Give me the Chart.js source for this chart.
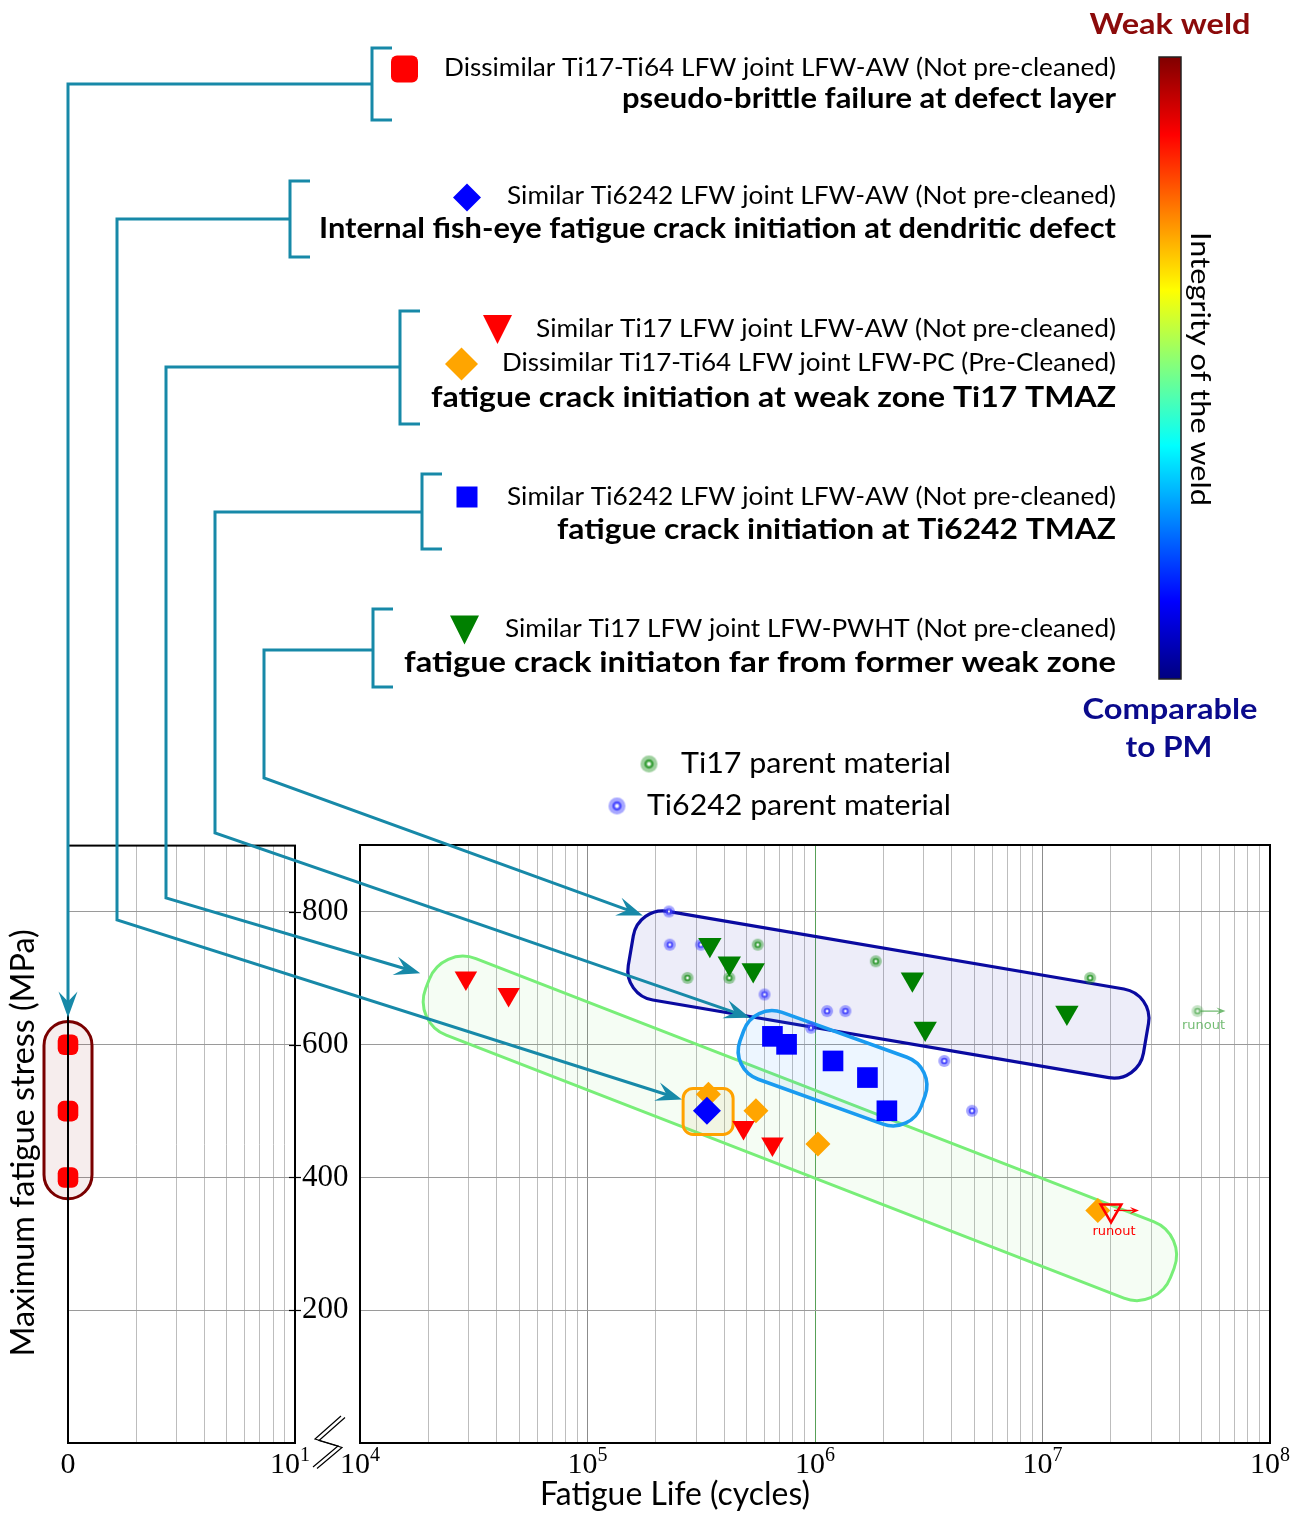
<!DOCTYPE html>
<html>
<head>
<meta charset="utf-8">
<title>Fatigue life of LFW joints</title>
<script src="https://cdn.jsdelivr.net/npm/chart.js@4.4.1/dist/chart.umd.min.js"></script>
<style>
  html, body { margin: 0; padding: 0; background: #fff; }
  #page { position: relative; width: 1305px; height: 1513px; overflow: hidden; }
  #page canvas { position: absolute; }
  #overlay { pointer-events: none; }
</style>
</head>
<body>
<div id="page">
  <canvas id="leftChart" width="360" height="693" style="left:0;top:820px"></canvas>
  <canvas id="mainChart" width="975" height="693" style="left:330px;top:820px"></canvas>
  <canvas id="overlay" width="1305" height="1513" style="left:0;top:0"></canvas>
</div>
<script>
// life = cycles to failure, stress = maximum fatigue stress (MPa)
const dissimAW_stress = [600, 500, 400];            // sits on the "0" line of the left panel
const fishEye_life = [3.35e5];
const fishEye_stress = [500];
const ti6242TMAZ_life = [6.5e5, 7.5e5, 1.2e6, 1.7e6, 2.07e6];
const ti6242TMAZ_stress = [612, 600, 575, 550, 500];
const ti17AW_life = [2.92e4, 4.5e4, 4.85e5, 6.5e5];
const ti17AW_stress = [700, 675, 475, 450];
const dissimPC_life = [3.4e5, 5.5e5, 1.03e6];
const dissimPC_stress = [525, 500, 450];
const pwht_life = [3.45e5, 4.2e5, 5.35e5, 2.68e6, 3.05e6, 1.28e7];
const pwht_stress = [750, 722, 712, 698, 624, 648];
const ti17PM_life = [2.75e5, 4.2e5, 5.6e5, 1.85e6, 1.62e7];
const ti17PM_stress = [700, 700, 750, 725, 700];
const ti6242PM_life = [2.28e5, 2.3e5, 3.15e5, 6.0e5, 9.6e5, 1.13e6, 1.36e6, 3.7e6, 4.9e6];
const ti6242PM_stress = [800, 750, 750, 675, 625, 650, 650, 575, 500];
// run-outs (test stopped without failure)
const ti17AW_runLife = [2.0e7], ti17AW_runStress = [350];
const dissimPC_runLife = [1.75e7], dissimPC_runStress = [350];
const ti17PM_runLife = [4.8e7], ti17PM_runStress = [650];
// axes
const stressTicks = [200, 400, 600, 800];
const lifeDecades = [1e4, 1e5, 1e6, 1e7, 1e8];
const leftDecades = [1, 10];

const pts = (xs, ys) => xs.map((x, i) => ({ x: x, y: ys[i] }));

// grid positions for log axes (1..9 per decade)
const mainGrid = [];
for (let e = 4; e < 8; e++) for (let m = 1; m < 10; m++) mainGrid.push(m * Math.pow(10, e));
mainGrid.push(1e8);
const leftGrid = [1, 2, 3, 4, 5, 6, 7, 8, 9, 10];

const SERIF = '"Liberation Serif", "DejaVu Serif", serif';
const SANS = 'Lato, "Open Sans", sans-serif';
const TEAL = '#1789a8';

// shaded zones around groups of points: ends in data space, thickness in px
const zones = [
  { from: [1.98e4, 691], to: [3.72e7, 256], h: 82, r: 36, lw: 3, stroke: '#78ee78', fill: 'rgba(120,230,100,0.07)' },
  { from: [1.55e5, 741], to: [2.85e7, 609], h: 90, r: 30, lw: 3.2, stroke: '#0a0aa0', fill: 'rgba(20,20,170,0.075)' },
  { from: [4.77e5, 613], to: [2.99e6, 515], h: 71, r: 30, lw: 3.6, stroke: '#1a9bf0', fill: 'rgba(60,150,255,0.09)' },
  { from: [3.39e5, 499], to: [3.39e5, 499], w: 50, h: 46, r: 10, lw: 3, stroke: '#ffa200', fill: 'rgba(200,170,60,0.09)' }
];
const pill = { from: [1, 635], to: [1, 368], h: 48, r: 24, lw: 3, stroke: '#7a0000', fill: 'rgba(128,0,0,0.07)' };

function roundRectPath(ctx, x, y, w, h, r) {
  ctx.beginPath();
  ctx.moveTo(x + r, y);
  ctx.arcTo(x + w, y, x + w, y + h, r);
  ctx.arcTo(x + w, y + h, x, y + h, r);
  ctx.arcTo(x, y + h, x, y, r);
  ctx.arcTo(x, y, x + w, y, r);
  ctx.closePath();
}

function drawZone(ctx, xs, ys, z) {
  const x1 = xs.getPixelForValue(z.from[0]), y1 = ys.getPixelForValue(z.from[1]);
  const x2 = xs.getPixelForValue(z.to[0]), y2 = ys.getPixelForValue(z.to[1]);
  const len = z.w || Math.hypot(x2 - x1, y2 - y1);
  const ang = z.w ? 0 : Math.atan2(y2 - y1, x2 - x1);
  ctx.save();
  ctx.translate((x1 + x2) / 2, (y1 + y2) / 2);
  ctx.rotate(ang);
  roundRectPath(ctx, -len / 2, -z.h / 2, len, z.h, z.r);
  ctx.fillStyle = z.fill;
  ctx.fill();
  ctx.lineWidth = z.lw;
  ctx.strokeStyle = z.stroke;
  ctx.stroke();
  ctx.restore();
}

function arrowHead(ctx, tx, ty, ang, len, half) {
  const ux = Math.cos(ang), uy = Math.sin(ang), nx = -uy, ny = ux;
  ctx.beginPath();
  ctx.moveTo(tx, ty);
  ctx.lineTo(tx - ux * len + nx * half, ty - uy * len + ny * half);
  ctx.lineTo(tx - ux * len * 0.62, ty - uy * len * 0.62);
  ctx.lineTo(tx - ux * len - nx * half, ty - uy * len - ny * half);
  ctx.closePath();
  ctx.fill();
}

function drawPow(ctx, exp, cx, base) {
  ctx.save();
  ctx.fillStyle = '#000';
  ctx.textAlign = 'left';
  ctx.textBaseline = 'alphabetic';
  ctx.font = '30px ' + SERIF;
  const w1 = ctx.measureText('10').width;
  ctx.font = '20px ' + SERIF;
  const w2 = exp ? ctx.measureText(exp).width : 0;
  const x0 = cx - (w1 + w2) / 2;
  ctx.font = '30px ' + SERIF;
  ctx.fillText('10', x0, base);
  if (exp) {
    ctx.font = '20px ' + SERIF;
    ctx.fillText(exp, x0 + w1, base - 12);
  }
  ctx.restore();
}

function pmSprite(rgb, r, alpha) {
  const s = Math.ceil(r * 2 + 2);
  const c = document.createElement('canvas');
  c.width = c.height = s;
  const g = c.getContext('2d'), m = s / 2;
  g.globalAlpha = alpha;
  g.fillStyle = 'rgba(' + rgb + ',0.45)';
  g.beginPath(); g.arc(m, m, r, 0, Math.PI * 2); g.fill();
  g.strokeStyle = 'rgba(' + rgb + ',0.85)';
  g.lineWidth = r * 0.28;
  g.beginPath(); g.arc(m, m, r * 0.42, 0, Math.PI * 2); g.stroke();
  g.fillStyle = 'rgba(255,255,255,0.9)';
  g.beginPath(); g.arc(m, m, r * 0.2, 0, Math.PI * 2); g.fill();
  return c;
}
const GREEN_PM = '40,150,40', BLUE_PM = '60,60,255';
const ti17Dot = pmSprite(GREEN_PM, 6, 1);
const ti6242Dot = pmSprite(BLUE_PM, 6, 1);
const ti17RunDot = pmSprite(GREEN_PM, 6, 0.6);

function strokeFrame(chart) {
  const a = chart.chartArea, ctx = chart.ctx;
  ctx.save();
  ctx.strokeStyle = '#000';
  ctx.lineWidth = 2;
  ctx.strokeRect(a.left, a.top, a.right - a.left, a.bottom - a.top);
  ctx.restore();
}

const leftDecor = {
  id: 'leftDecor',
  beforeDatasetsDraw(chart) {
    drawZone(chart.ctx, chart.scales.x, chart.scales.y, pill);
  },
  afterDraw(chart) {
    const ctx = chart.ctx, a = chart.chartArea, xs = chart.scales.x, ys = chart.scales.y;
    strokeFrame(chart);
    ctx.save();
    ctx.strokeStyle = '#000';
    ctx.lineWidth = 1.2;
    stressTicks.forEach(v => {
      const y = Math.round(ys.getPixelForValue(v)) + 0.5;
      ctx.beginPath(); ctx.moveTo(a.right - 6, y); ctx.lineTo(a.right + 6, y); ctx.stroke();
    });
    ctx.restore();
    // "0" stands for the origin of this panel, 10^1 at its right edge
    ctx.save();
    ctx.font = '30px ' + SERIF;
    ctx.fillStyle = '#000';
    ctx.textAlign = 'center';
    ctx.fillText('0', xs.getPixelForValue(leftDecades[0]), a.bottom + 30);
    ctx.restore();
    drawPow(ctx, '1', xs.getPixelForValue(leftDecades[1]) - 5, a.bottom + 30);
  }
};

const mainDecor = {
  id: 'mainDecor',
  beforeDatasetsDraw(chart) {
    zones.forEach(z => drawZone(chart.ctx, chart.scales.x, chart.scales.y, z));
  },
  afterDatasetsDraw(chart) {
    const ctx = chart.ctx, xs = chart.scales.x, ys = chart.scales.y;
    const runs = [
      { x: ti17PM_runLife[0], y: ti17PM_runStress[0], color: 'rgba(70,165,70,0.75)', dx: 6, dy: 15 },
      { x: ti17AW_runLife[0], y: ti17AW_runStress[0], color: '#ff0000', dx: 3, dy: 21 }
    ];
    runs.forEach(r => {
      const px = xs.getPixelForValue(r.x), py = ys.getPixelForValue(r.y);
      ctx.save();
      ctx.strokeStyle = r.color;
      ctx.fillStyle = r.color;
      ctx.lineWidth = 1.3;
      ctx.beginPath(); ctx.moveTo(px + 3, py); ctx.lineTo(px + 22, py); ctx.stroke();
      arrowHead(ctx, px + 28, py, 0, 9, 3.5);
      ctx.font = '13px "DejaVu Sans", sans-serif';
      ctx.textAlign = 'center';
      ctx.textBaseline = 'middle';
      ctx.fillText('runout', px + r.dx, py + r.dy);
      ctx.restore();
    });
  },
  afterDraw(chart) {
    strokeFrame(chart);
    const xs = chart.scales.x, a = chart.chartArea;
    lifeDecades.forEach(v => drawPow(chart.ctx, String(Math.round(Math.log10(v))), xs.getPixelForValue(v), a.bottom + 30));
  }
};

const baseOpts = {
  responsive: false,
  animation: false,
  events: [],
  plugins: { legend: { display: false }, tooltip: { enabled: false } }
};

const leftChart = new Chart(document.getElementById('leftChart'), {
  type: 'scatter',
  data: {
    datasets: [{
      label: 'Dissimilar Ti17-Ti64 LFW-AW',
      data: dissimAW_stress.map(s => ({ x: leftDecades[0], y: s })),
      pointStyle: 'rectRounded', pointRadius: 12, pointBackgroundColor: '#ff0000', pointBorderWidth: 0, clip: false
    }]
  },
  options: Object.assign({}, baseOpts, {
    layout: { padding: { left: 68, top: 25, right: 0, bottom: 0 } },
    scales: {
      x: {
        type: 'logarithmic', min: 1, max: 10,
        afterBuildTicks: s => { s.ticks = leftGrid.map(v => ({ value: v })); },
        afterFit: s => { s.height = 70; },
        ticks: { display: false, autoSkip: false },
        grid: { color: '#bdbdbd', drawTicks: false },
        border: { display: false }
      },
      y: {
        type: 'linear', position: 'right', min: 0, max: 900,
        afterBuildTicks: s => { s.ticks = stressTicks.map(v => ({ value: v })); },
        afterFit: s => { s.width = 65; },
        ticks: { font: { family: SERIF, size: 31 }, color: '#000', padding: 7, autoSkip: false },
        grid: { color: '#9a9a9a', drawTicks: false },
        border: { display: false }
      }
    }
  }),
  plugins: [leftDecor]
});

const mainChart = new Chart(document.getElementById('mainChart'), {
  type: 'scatter',
  data: {
    datasets: [
      { label: 'Similar Ti6242 LFW-AW fish-eye', data: pts(fishEye_life, fishEye_stress),
        pointStyle: 'rectRot', pointRadius: 14, pointBackgroundColor: '#0000ff', pointBorderWidth: 0, clip: false },
      { label: 'Similar Ti6242 LFW-AW TMAZ', data: pts(ti6242TMAZ_life, ti6242TMAZ_stress),
        pointStyle: 'rect', pointRadius: 14.6, pointBackgroundColor: '#0000ff', pointBorderWidth: 0, clip: false },
      { label: 'Similar Ti17 LFW-AW', data: pts(ti17AW_life, ti17AW_stress),
        pointStyle: 'triangle', pointRotation: 180, pointRadius: 13, pointBackgroundColor: '#ff0000', pointBorderWidth: 0, clip: false },
      { label: 'Dissimilar Ti17-Ti64 LFW-PC', data: pts(dissimPC_life, dissimPC_stress),
        pointStyle: 'rectRot', pointRadius: 12.5, pointBackgroundColor: '#ffa500', pointBorderWidth: 0, clip: false },
      { label: 'Similar Ti17 LFW-PWHT', data: pts(pwht_life, pwht_stress),
        pointStyle: 'triangle', pointRotation: 180, pointRadius: 13.5, pointBackgroundColor: '#008000', pointBorderWidth: 0, clip: false },
      { label: 'Ti17 LFW-AW runout', data: pts(ti17AW_runLife, ti17AW_runStress),
        pointStyle: 'triangle', pointRotation: 180, pointRadius: 12, pointBackgroundColor: 'rgba(0,0,0,0)',
        pointBorderColor: '#ff0000', pointBorderWidth: 2.5, clip: false },
      { label: 'Ti17-Ti64 LFW-PC runout', data: pts(dissimPC_runLife, dissimPC_runStress),
        pointStyle: 'rectRot', pointRadius: 12.5, pointBackgroundColor: '#ffa500', pointBorderWidth: 0, clip: false },
      { label: 'Ti17 parent material', data: pts(ti17PM_life, ti17PM_stress),
        pointStyle: ti17Dot, pointRadius: 6, clip: false },
      { label: 'Ti6242 parent material', data: pts(ti6242PM_life, ti6242PM_stress),
        pointStyle: ti6242Dot, pointRadius: 6, clip: false },
      { label: 'Ti17 parent material runout', data: pts(ti17PM_runLife, ti17PM_runStress),
        pointStyle: ti17RunDot, pointRadius: 6, clip: false }
    ]
  },
  options: Object.assign({}, baseOpts, {
    layout: { padding: { left: 0, top: 25, right: 35, bottom: 0 } },
    scales: {
      x: {
        type: 'logarithmic', min: 1e4, max: 1e8,
        afterBuildTicks: s => { s.ticks = mainGrid.map(v => ({ value: v })); },
        afterFit: s => { s.height = 70; },
        ticks: { display: false, autoSkip: false },
        grid: {
          drawTicks: false,
          color: c => {
            const v = c.tick ? c.tick.value : 1;
            const lg = Math.log10(v);
            if (Math.abs(lg - 6) < 1e-9) return 'rgba(70,150,70,0.9)';
            return Math.abs(lg - Math.round(lg)) < 1e-9 ? '#8c8c8c' : '#bdbdbd';
          }
        },
        border: { display: false }
      },
      y: {
        type: 'linear', min: 0, max: 900,
        afterBuildTicks: s => { s.ticks = stressTicks.map(v => ({ value: v })); },
        afterFit: s => { s.width = 30; },
        ticks: { display: false },
        grid: { color: '#9a9a9a', drawTicks: false },
        border: { display: false }
      }
    }
  }),
  plugins: [mainDecor]
});

// ---------- overlay: legend, connectors, colour bar, axis titles ----------
const ov = document.getElementById('overlay').getContext('2d');
const LEFT_OFF = [0, 820], MAIN_OFF = [330, 820];

function toPage(chart, off, x, y) {
  return [off[0] + chart.scales.x.getPixelForValue(x), off[1] + chart.scales.y.getPixelForValue(y)];
}

function fitText(ctx, txt, x, y, w, font, color, align) {
  ctx.save();
  ctx.font = font;
  ctx.fillStyle = color;
  ctx.textBaseline = 'middle';
  ctx.textAlign = 'left';
  const nat = ctx.measureText(txt).width;
  const x0 = align === 'right' ? x - w : align === 'center' ? x - w / 2 : x;
  ctx.translate(x0, y);
  ctx.scale(w / nat, 1);
  ctx.fillText(txt, 0, 0);
  ctx.restore();
}

const brackets = [
  { x: 372, top: 48, bot: 120, mid: 84 },
  { x: 290, top: 181, bot: 257, mid: 219 },
  { x: 400, top: 311, bot: 424, mid: 367 },
  { x: 422, top: 474, bot: 549, mid: 512 },
  { x: 373, top: 609, bot: 687, mid: 650 }
];
const connectors = [
  { vx: 68, bendY: null, tip: toPage(leftChart, LEFT_OFF, 1, 641) },
  { vx: 117, bendY: 920, tip: toPage(mainChart, MAIN_OFF, 2.6e5, 517) },
  { vx: 166, bendY: 898, tip: toPage(mainChart, MAIN_OFF, 1.84e4, 707) },
  { vx: 215, bendY: 833, tip: toPage(mainChart, MAIN_OFF, 5.18e5, 640) },
  { vx: 264, bendY: 778, tip: toPage(mainChart, MAIN_OFF, 1.75e5, 794) }
];

ov.strokeStyle = TEAL;
ov.fillStyle = TEAL;
ov.lineWidth = 3;
ov.lineJoin = 'miter';
brackets.forEach((b, i) => {
  ov.beginPath();
  ov.moveTo(b.x + 20, b.top); ov.lineTo(b.x, b.top); ov.lineTo(b.x, b.bot); ov.lineTo(b.x + 20, b.bot);
  ov.stroke();
  const c = connectors[i];
  const path = [[b.x, b.mid], [c.vx, b.mid]];
  if (c.bendY !== null) path.push([c.vx, c.bendY]);
  const prev = path[path.length - 1];
  const ang = Math.atan2(c.tip[1] - prev[1], c.tip[0] - prev[0]);
  const HL = 26;
  ov.beginPath();
  ov.moveTo(path[0][0], path[0][1]);
  for (let k = 1; k < path.length; k++) ov.lineTo(path[k][0], path[k][1]);
  ov.lineTo(c.tip[0] - Math.cos(ang) * HL * 0.6, c.tip[1] - Math.sin(ang) * HL * 0.6);
  ov.stroke();
  arrowHead(ov, c.tip[0], c.tip[1], ang, HL, 9.5);
});

// legend symbols
function legendMarker(ctx, kind, x, y, s, color) {
  ctx.save();
  ctx.fillStyle = color;
  if (kind === 'roundSquare') {
    roundRectPath(ctx, x - s, y - s, 2 * s, 2 * s, 6);
  } else if (kind === 'square') {
    ctx.beginPath(); ctx.rect(x - s, y - s, 2 * s, 2 * s);
  } else if (kind === 'diamond') {
    ctx.beginPath(); ctx.moveTo(x, y - s); ctx.lineTo(x + s, y); ctx.lineTo(x, y + s); ctx.lineTo(x - s, y); ctx.closePath();
  } else if (kind === 'triDown') {
    ctx.beginPath(); ctx.moveTo(x - s, y - s); ctx.lineTo(x + s, y - s); ctx.lineTo(x, y + s); ctx.closePath();
  }
  ctx.fill();
  ctx.restore();
}
legendMarker(ov, 'roundSquare', 404.5, 69, 13.5, '#ff0000');
legendMarker(ov, 'diamond', 467, 197.5, 14, '#0000ff');
legendMarker(ov, 'triDown', 497.5, 329.5, 14.5, '#ff0000');
legendMarker(ov, 'diamond', 461.5, 364, 16.5, '#ffa500');
legendMarker(ov, 'square', 467, 497, 10.5, '#0000ff');
legendMarker(ov, 'triDown', 464.5, 630, 14.5, '#008000');

const RIGHT = 1116;
const legendLines = [
  { t: 'Dissimilar Ti17-Ti64 LFW joint LFW-AW (Not pre-cleaned)', y: 68, w: 672, b: false },
  { t: 'pseudo-brittle failure at defect layer', y: 99, w: 494, b: true },
  { t: 'Similar Ti6242 LFW joint LFW-AW (Not pre-cleaned)', y: 196, w: 609, b: false },
  { t: 'Internal fish-eye fatigue crack initiation at dendritic defect', y: 229, w: 797, b: true },
  { t: 'Similar Ti17 LFW joint LFW-AW (Not pre-cleaned)', y: 329, w: 580, b: false },
  { t: 'Dissimilar Ti17-Ti64 LFW joint LFW-PC (Pre-Cleaned)', y: 363, w: 614, b: false },
  { t: 'fatigue crack initiation at weak zone Ti17 TMAZ', y: 398, w: 685, b: true },
  { t: 'Similar Ti6242 LFW joint LFW-AW (Not pre-cleaned)', y: 497, w: 609, b: false },
  { t: 'fatigue crack initiation at Ti6242 TMAZ', y: 530, w: 559, b: true },
  { t: 'Similar Ti17 LFW joint LFW-PWHT (Not pre-cleaned)', y: 629, w: 611, b: false },
  { t: 'fatigue crack initiaton far from former weak zone', y: 663, w: 712, b: true }
];
legendLines.forEach(l => {
  fitText(ov, l.t, RIGHT, l.y, l.w, (l.b ? 'bold 29px ' : '25px ') + SANS, '#000', 'right');
});

// parent material legend
const bigTi17 = pmSprite(GREEN_PM, 8.5, 1), bigTi6242 = pmSprite(BLUE_PM, 8.5, 1);
ov.drawImage(bigTi17, 649 - bigTi17.width / 2, 764 - bigTi17.height / 2);
ov.drawImage(bigTi6242, 617 - bigTi6242.width / 2, 806 - bigTi6242.height / 2);
fitText(ov, 'Ti17 parent material', 951, 764, 270, '29px ' + SANS, '#000', 'right');
fitText(ov, 'Ti6242 parent material', 951, 806, 304, '29px ' + SANS, '#000', 'right');

// colour bar (jet), weak weld at the top
function jet(t) {
  const c = v => Math.round(255 * Math.max(0, Math.min(1, v)));
  return 'rgb(' + c(1.5 - Math.abs(4 * t - 3)) + ',' + c(1.5 - Math.abs(4 * t - 2)) + ',' + c(1.5 - Math.abs(4 * t - 1)) + ')';
}
const CB = { x: 1159, y: 57, w: 22, h: 622 };
const grad = ov.createLinearGradient(0, CB.y + CB.h, 0, CB.y);
for (let i = 0; i <= 40; i++) grad.addColorStop(i / 40, jet(i / 40));
ov.fillStyle = grad;
ov.fillRect(CB.x, CB.y, CB.w, CB.h);
ov.strokeStyle = '#222';
ov.lineWidth = 1.5;
ov.strokeRect(CB.x, CB.y, CB.w, CB.h);

fitText(ov, 'Weak weld', 1170, 25, 161, 'bold 29px ' + SANS, '#8b0a0a', 'center');
fitText(ov, 'Comparable', 1170, 710, 175, 'bold 29px ' + SANS, '#0a0a8c', 'center');
fitText(ov, 'to PM', 1169, 748, 87, 'bold 29px ' + SANS, '#0a0a8c', 'center');

ov.save();
ov.translate(1200, 369);
ov.rotate(Math.PI / 2);
fitText(ov, 'Integrity of the weld', 0, 0, 274, '27px ' + SANS, '#000', 'center');
ov.restore();

// axis titles
ov.save();
ov.translate(24, 1143);
ov.rotate(-Math.PI / 2);
fitText(ov, 'Maximum fatigue stress (MPa)', 0, 0, 427, '32px ' + SANS, '#000', 'center');
ov.restore();
fitText(ov, 'Fatigue Life (cycles)', 675, 1495, 270, '32px ' + SANS, '#000', 'center');

// axis break mark between the two panels
ov.strokeStyle = '#000';
ov.lineWidth = 1.2;
[[0, 0], [4, 1.5]].forEach(o => {
  ov.beginPath();
  ov.moveTo(341 + o[0], 1416 + o[1]);
  ov.lineTo(315 + o[0], 1439 + o[1]);
  ov.lineTo(338 + o[0], 1446 + o[1]);
  ov.lineTo(313 + o[0], 1467 + o[1]);
  ov.stroke();
});
</script>
</body>
</html>
